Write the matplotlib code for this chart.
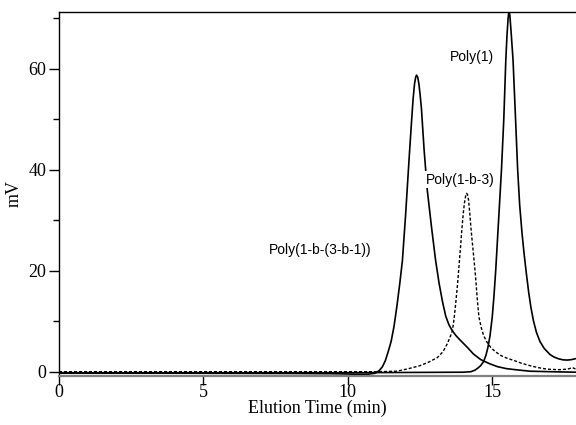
import matplotlib
matplotlib.use("Agg")
import matplotlib.pyplot as plt
from matplotlib.ticker import MultipleLocator

# Poly(1-b-(3-b-1)) -- solid, earliest eluting
t_a = [0, 4, 8, 9.5, 10.3, 10.7, 10.95, 11.1, 11.2, 11.3, 11.4, 11.5, 11.6, 11.7, 11.8,
       11.89, 12.0, 12.12, 12.2, 12.26, 12.31, 12.35, 12.38, 12.42, 12.46, 12.5, 12.55,
       12.64, 12.75, 12.9, 13.04, 13.16, 13.28, 13.39, 13.5, 13.62, 13.75, 13.9, 14.14,
       14.35, 14.6, 14.9, 15.18, 15.5, 15.8, 16.3, 17.0, 17.9]
y_a = [-0.3, -0.3, -0.35, -0.4, -0.5, -0.5, -0.3, 0.3, 1.0, 2.2, 4.0, 6.0, 9.0, 13.0, 17.5,
       22.0, 31.0, 42.0, 49.0, 54.0, 57.0, 58.3, 58.7, 58.3, 57.0, 55.0, 52.0,
       44.0, 36.0, 28.5, 22.0, 17.5, 13.8, 11.0, 9.3, 8.1, 7.1, 6.2, 4.8,
       3.5, 2.4, 1.6, 1.0, 0.6, 0.4, 0.1, 0.0, -0.1]

# Poly(1) -- solid, latest eluting
t_b = [0, 10, 14.0, 14.26, 14.4, 14.5, 14.6, 14.7, 14.78, 14.85, 14.92, 15.0, 15.06,
       15.12, 15.22, 15.32, 15.4, 15.47, 15.51, 15.55, 15.58, 15.61, 15.65, 15.72, 15.8,
       15.88, 15.95, 16.03, 16.1, 16.18, 16.26, 16.34, 16.43, 16.53, 16.65, 16.8,
       17.0, 17.14, 17.3, 17.45, 17.6, 17.75, 17.9]
y_b = [-0.2, -0.2, -0.1, 0.0, 0.3, 0.7, 1.2, 2.0, 3.2, 4.8, 7.0, 10.8, 15.0,
       20.0, 30.0, 40.0, 50.0, 61.7, 66.5, 70.0, 71.5, 70.5, 67.5, 61.7, 51.0,
       40.0, 33.0, 27.5, 23.5, 19.5, 15.8, 12.7, 10.0, 7.8, 6.0, 4.6,
       3.4, 2.9, 2.55, 2.35, 2.3, 2.4, 2.6]

# Poly(1-b-3) -- dashed
t_c = [0, 10, 11.0, 11.7, 12.1, 12.5, 12.8, 13.1, 13.3, 13.45, 13.55, 13.62, 13.68, 13.74,
       13.8, 13.85, 13.9, 13.95, 14.0, 14.04, 14.08, 14.11, 14.14, 14.18, 14.22, 14.27,
       14.32, 14.37, 14.42, 14.48, 14.54, 14.62, 14.7, 14.8, 14.95, 15.1, 15.3, 15.5,
       15.76, 16.0, 16.3, 16.6, 16.9, 17.3, 17.6, 17.78, 17.9]
y_c = [0, 0, 0, 0.1, 0.6, 1.2, 1.9, 2.8, 4.0, 5.6, 7.0, 8.1, 10.5, 13.8,
       17.4, 21.0, 24.5, 28.3, 31.5, 33.5, 34.8, 35.3, 35.1, 34.0, 31.5, 28.0,
       25.0, 22.1, 19.0, 14.5, 10.8, 8.7, 7.2, 6.0, 4.8, 4.0, 3.2, 2.7,
       2.2, 1.7, 1.2, 0.8, 0.5, 0.4, 0.5, 0.8, 0.5]

labels = ["Poly(1-b-(3-b-1))", "Poly(1)", "Poly(1-b-3)"]
label_xy = [(7.28, 24.0), (13.55, 62.3), (12.7, 38.0)]

serif = "Liberation Serif"
sans = "Liberation Sans"

fig = plt.figure(figsize=(5.76, 4.25), dpi=100)
ax = fig.add_axes([0.1024, 0.1153, 0.8976, 0.8565])

ax.plot(t_a, y_a, color="black", lw=1.2, solid_joinstyle="round")
ax.plot(t_b, y_b, color="black", lw=1.2, solid_joinstyle="round")
ax.plot(t_c, y_c, color="black", lw=1.0, ls=(0, (2.2, 1.4)))

for txt, (x, y) in zip(labels, label_xy):
    ax.text(x, y, txt, family=sans, fontsize=10, va="center", ha="left",
            bbox=dict(facecolor="white", edgecolor="none", pad=1.0), zorder=5)

ax.set_xlim(0, 17.9)
ax.set_ylim(-0.85, 71.2)

ax.spines["right"].set_visible(False)
ax.spines["bottom"].set_color("#808080")
ax.spines["bottom"].set_linewidth(1.6)
ax.spines["left"].set_linewidth(1.0)
ax.spines["top"].set_linewidth(1.0)

ax.xaxis.set_major_locator(MultipleLocator(5))
ax.yaxis.set_major_locator(MultipleLocator(20))
ax.yaxis.set_minor_locator(MultipleLocator(10))
ax.tick_params(axis="x", which="major", direction="out", length=6.5, width=1.0,
               pad=-1, color="black")
ax.tick_params(axis="y", which="major", direction="out", length=7, width=1.0, pad=2)
ax.tick_params(axis="y", which="minor", direction="out", length=4, width=1.0)
for lab in ax.get_xticklabels() + ax.get_yticklabels():
    lab.set_family(serif)
    lab.set_fontsize(13)

ax.set_xlabel("Elution Time (min)", family=serif, fontsize=13, labelpad=-1)
ax.set_ylabel("mV", family=serif, fontsize=13, labelpad=4)

fig.savefig("out.png", dpi=100)
